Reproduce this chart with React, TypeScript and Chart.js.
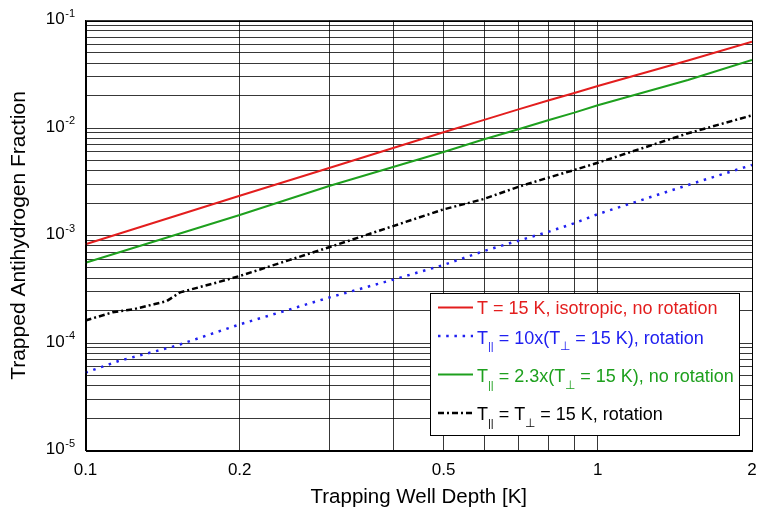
import React, { useEffect, useRef } from "react";
import { Chart, registerables } from "chart.js";

Chart.register(...registerables);

const FONT = "'Liberation Sans', Arial, Helvetica, sans-serif";

// ---- data ----
const redX = [0.1, 0.2, 0.3, 0.4, 0.5, 0.6, 0.7, 0.8, 0.9, 1, 1.5, 2];
const redY = [8.3e-4, 2.34e-3, 4.27e-3, 6.56e-3, 9.12e-3, 1.19e-2, 1.49e-2, 1.8e-2, 2.12e-2, 2.46e-2, 4.25e-2, 6.35e-2];

const blueX = [0.1, 0.116, 0.15, 0.2, 0.3, 0.4, 0.5, 0.6, 0.7, 0.8, 0.9, 1, 1.5, 2];
const blueY = [5.3e-5, 6.8e-5, 9.4e-5, 1.49e-4, 2.66e-4, 3.9e-4, 5.32e-4, 7.18e-4, 8.95e-4, 1.08e-3, 1.3e-3, 1.58e-3, 2.95e-3, 4.53e-3];

const greenX = [0.1, 0.2, 0.3, 0.4, 0.5, 0.6, 0.7, 0.8, 0.9, 1, 1.5, 2];
const greenY = [5.58e-4, 1.55e-3, 2.9e-3, 4.36e-3, 5.98e-3, 7.85e-3, 9.73e-3, 1.18e-2, 1.39e-2, 1.63e-2, 2.8e-2, 4.29e-2];

const blackX = [0.1, 0.113, 0.124, 0.136, 0.144, 0.153, 0.183, 0.2, 0.3, 0.4, 0.5, 0.6, 0.7, 0.8, 0.9, 1, 1.5, 2];
const blackY = [1.62e-4, 1.93e-4, 2.06e-4, 2.29e-4, 2.45e-4, 2.96e-4, 3.72e-4, 4.2e-4, 7.82e-4, 1.23e-3, 1.75e-3, 2.19e-3, 2.84e-3, 3.45e-3, 4.07e-3, 4.75e-3, 8.93e-3, 1.31e-2];

const xGridValues = [0.1, 0.2, 0.3, 0.4, 0.5, 0.6, 0.7, 0.8, 0.9, 1, 2];
const xLabelValues = [0.1, 0.2, 0.5, 1, 2];
const yDecades = [-5, -4, -3, -2, -1];
const yMantissas = [1, 2, 3, 4, 5, 6, 7, 8, 9];

const xTitle = "Trapping Well Depth [K]";
const yTitle = "Trapped Antihydrogen Fraction";

type Seg = { t: string; sub?: boolean };
const legendRed: Seg[] = [{ t: "T = 15 K, isotropic, no rotation" }];
const legendBlue: Seg[] = [{ t: "T" }, { t: "||", sub: true }, { t: " = 10x(T" }, { t: "⊥", sub: true }, { t: " = 15 K), rotation" }];
const legendGreen: Seg[] = [{ t: "T" }, { t: "||", sub: true }, { t: " = 2.3x(T" }, { t: "⊥", sub: true }, { t: " = 15 K), no rotation" }];
const legendBlack: Seg[] = [{ t: "T" }, { t: "||", sub: true }, { t: " = T" }, { t: "⊥", sub: true }, { t: " = 15 K, rotation" }];

const RED = "#e31e1e";
const BLUE = "#2020f0";
const GREEN = "#1ea01e";
const BLACK = "#000000";

const pts = (xs: number[], ys: number[]) => xs.map((x, i) => ({ x, y: ys[i] }));

export default function App() {
  const ref = useRef<HTMLCanvasElement | null>(null);

  useEffect(() => {
    const canvas = ref.current;
    if (!canvas) return;

    const datasets: any[] = [
      { label: "red", data: pts(redX, redY), borderColor: RED, borderWidth: 2, legendSegs: legendRed },
      { label: "blue", data: pts(blueX, blueY), borderColor: BLUE, borderWidth: 2.5, borderDash: [2.5, 5.7], legendSegs: legendBlue },
      { label: "green", data: pts(greenX, greenY), borderColor: GREEN, borderWidth: 2, legendSegs: legendGreen },
      { label: "black", data: pts(blackX, blackY), borderColor: BLACK, borderWidth: 2.5, borderDash: [6, 3, 2, 3], legendSegs: legendBlack },
    ].map((d) => ({ ...d, pointRadius: 0, tension: 0, fill: false, borderCapStyle: "butt" }));

    const overlay = {
      id: "overlay",
      afterDraw(chart: any) {
        const ctx = chart.ctx as CanvasRenderingContext2D;
        const a = chart.chartArea;
        ctx.save();
        // frame
        ctx.strokeStyle = "#000";
        ctx.lineWidth = 1;
        ctx.setLineDash([]);
        ctx.strokeRect(Math.round(a.left) + 0.5, Math.round(a.top) + 0.5, Math.round(a.right - a.left) - 1, Math.round(a.bottom - a.top));

        // y tick labels 10^n
        const ys = chart.scales.y;
        for (const d of yDecades) {
          const py = ys.getPixelForValue(Math.pow(10, d));
          const exp = String(d);
          ctx.fillStyle = "#000";
          ctx.textBaseline = "alphabetic";
          ctx.textAlign = "right";
          ctx.font = `11px ${FONT}`;
          const ew = ctx.measureText(exp).width;
          ctx.fillText(exp, 75, py - 3.8);
          ctx.font = `17px ${FONT}`;
          ctx.fillText("10", 75 - ew - 0.5, py + 3.8);
        }

        // axis titles
        ctx.font = `20.5px ${FONT}`;
        ctx.textAlign = "center";
        ctx.fillText(xTitle, (a.left + a.right) / 2, 503);
        ctx.save();
        ctx.font = `21px ${FONT}`;
        ctx.translate(25, (a.top + a.bottom) / 2);
        ctx.rotate(-Math.PI / 2);
        ctx.fillText(yTitle, 0, 0);
        ctx.restore();

        // legend
        const L = { x: 430.5, y: 293.5, w: 309, h: 142 };
        ctx.fillStyle = "#fff";
        ctx.fillRect(L.x, L.y, L.w, L.h);
        ctx.strokeStyle = "#000";
        ctx.lineWidth = 1;
        ctx.strokeRect(L.x, L.y, L.w, L.h);
        const lineYs = [307.5, 336, 374.5, 413];
        const baseYs = [313.5, 343.5, 382, 420];
        chart.data.datasets.forEach((ds: any, i: number) => {
          ctx.save();
          ctx.strokeStyle = ds.borderColor;
          ctx.lineWidth = ds.borderWidth;
          ctx.setLineDash(ds.borderDash || []);
          ctx.lineCap = "butt";
          ctx.beginPath();
          ctx.moveTo(438, lineYs[i]);
          ctx.lineTo(473, lineYs[i]);
          ctx.stroke();
          ctx.restore();
          let x = 477;
          ctx.fillStyle = ds.borderColor;
          ctx.textAlign = "left";
          for (const s of ds.legendSegs as Seg[]) {
            if (s.sub) {
              ctx.font = `${s.t === "||" ? 11 : 12}px ${FONT}`;
              ctx.fillText(s.t, x, baseYs[i] + 6.5);
            } else {
              ctx.font = `18px ${FONT}`;
              ctx.fillText(s.t, x, baseYs[i]);
            }
            x += ctx.measureText(s.t).width;
          }
        });
        ctx.restore();
      },
    };

    const gridColor = "rgba(0,0,0,0.78)";

    const chart = new Chart(canvas, {
      type: "line",
      data: { datasets },
      options: {
        animation: false,
        responsive: false,
        maintainAspectRatio: false,
        parsing: true,
        layout: { padding: { top: 20.5, right: 6, left: 0, bottom: 0 } },
        plugins: { legend: { display: false }, tooltip: { enabled: false }, title: { display: false } },
        scales: {
          x: {
            type: "logarithmic",
            min: 0.1,
            max: 2,
            afterBuildTicks: (s: any) => {
              s.ticks = xGridValues.map((v) => ({ value: v }));
            },
            afterFit: (s: any) => {
              s.height = 59.5;
              s.paddingLeft = 0;
              s.paddingRight = 0;
            },
            ticks: {
              autoSkip: false,
              maxRotation: 0,
              minRotation: 0,
              padding: 10,
              color: "#000",
              font: { family: FONT, size: 17 },
              callback: (v: any) => (xLabelValues.includes(Number(v)) ? String(Number(v)) : ""),
            },
            grid: { color: gridColor, lineWidth: 1, drawTicks: false },
            border: { display: true, color: "#000", width: 1 },
          },
          y: {
            type: "logarithmic",
            min: 1e-5,
            max: 1e-1,
            afterBuildTicks: (s: any) => {
              const t: any[] = [];
              for (const d of yDecades) {
                for (const m of yMantissas) {
                  const v = m * Math.pow(10, d);
                  if (v <= 0.1000001) t.push({ value: v });
                }
              }
              s.ticks = t;
            },
            afterFit: (s: any) => {
              s.width = 85.5;
              s.paddingTop = 0;
              s.paddingBottom = 0;
            },
            ticks: { display: false },
            grid: { color: gridColor, lineWidth: 1, drawTicks: false },
            border: { display: true, color: "#000", width: 1 },
          },
        },
      },
      plugins: [overlay],
    } as any);

    return () => chart.destroy();
  }, []);

  return (
    <div style={{ position: "fixed", left: 0, top: 0, width: 758, height: 510, background: "#fff" }}>
      <canvas ref={ref} width={758} height={510} style={{ display: "block", width: 758, height: 510 }} />
    </div>
  );
}
